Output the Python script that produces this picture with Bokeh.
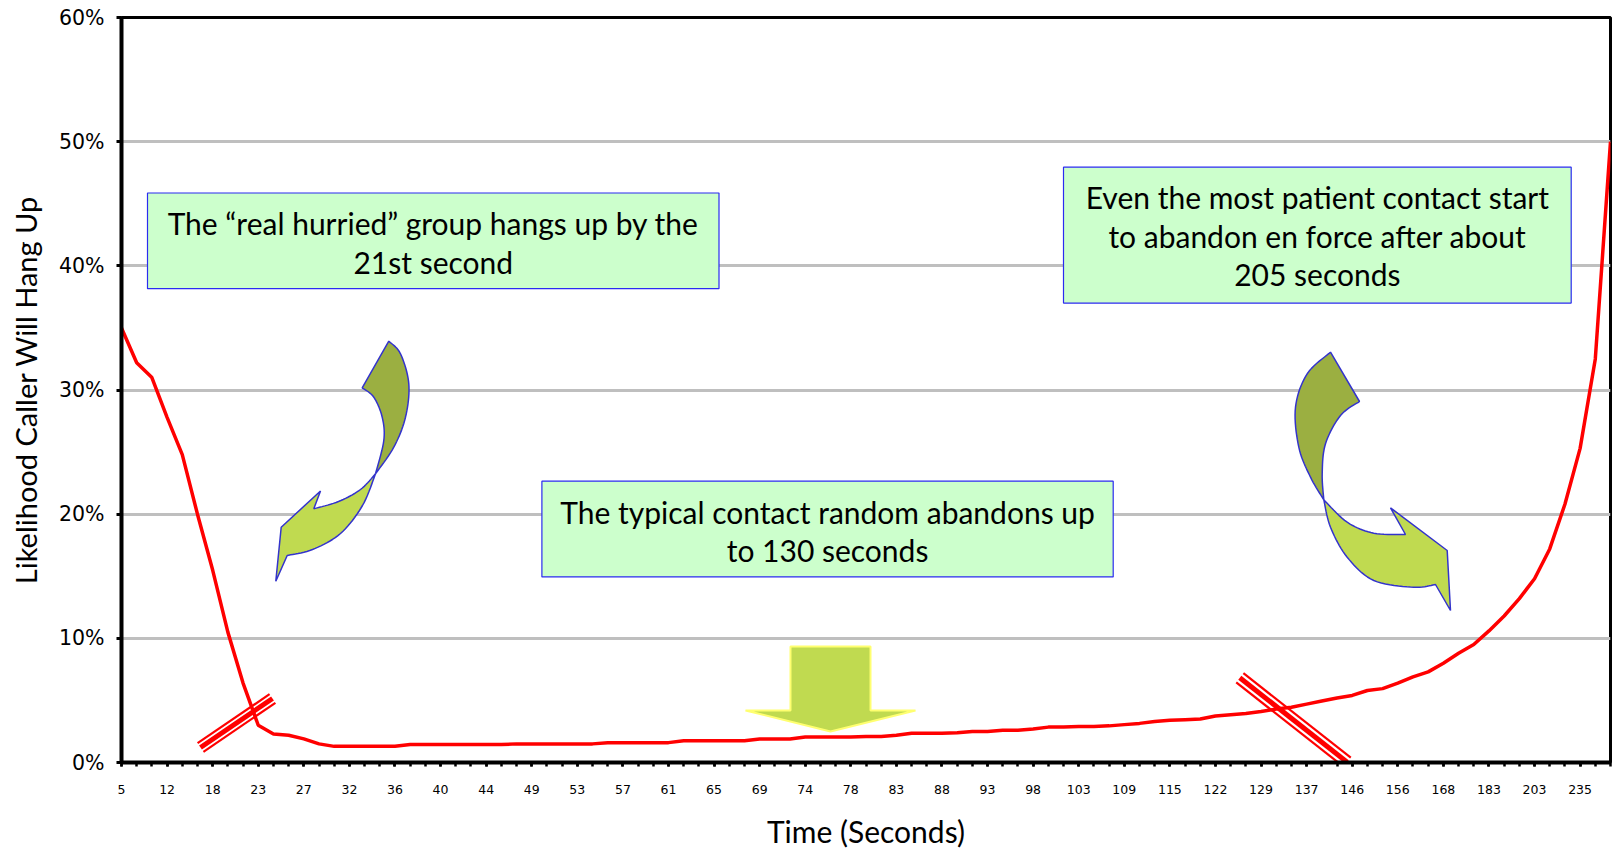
import numpy as np
from bokeh.plotting import figure
from bokeh.models import Range1d, FixedTicker, NumeralTickFormatter
from bokeh.core.properties import value
from bokeh.embed import file_html
from bokeh.resources import INLINE

# ---------------- data ----------------
tick_labels = ["5", "12", "18", "23", "27", "32", "36", "40", "44", "49", "53",
               "57", "61", "65", "69", "74", "78", "83", "88", "93", "98", "103",
               "109", "115", "122", "129", "137", "146", "156", "168", "183",
               "203", "235"]
label_every = 3

hang_up_pct = [35.0, 32.2, 31.0, 27.8, 24.8, 20.0, 15.5, 10.5, 6.4, 3.0,
               2.3, 2.2, 1.9, 1.5, 1.3, 1.3, 1.3, 1.3, 1.3, 1.45,
               1.45, 1.45, 1.45, 1.45, 1.45, 1.45, 1.5, 1.5, 1.5, 1.5,
               1.5, 1.5, 1.6, 1.6, 1.6, 1.6, 1.6, 1.75, 1.75, 1.75,
               1.75, 1.75, 1.9, 1.9, 1.9, 2.05, 2.05, 2.05, 2.05, 2.1,
               2.1, 2.2, 2.35, 2.35, 2.35, 2.4, 2.5, 2.5, 2.6, 2.6,
               2.7, 2.85, 2.85, 2.9, 2.9, 2.95, 3.05, 3.15, 3.3, 3.4,
               3.45, 3.5, 3.75, 3.85, 3.95, 4.1, 4.3, 4.45, 4.7, 4.95,
               5.2, 5.4, 5.8, 5.95, 6.4, 6.9, 7.3, 8.0, 8.8, 9.5,
               10.6, 11.8, 13.2, 14.8, 17.2, 20.8, 25.3, 32.5, 50.0]

y_ticks = [0, 0.1, 0.2, 0.3, 0.4, 0.5, 0.6]
x_title = "Time (Seconds)"
y_title = "Likelihood Caller Will Hang Up"

# ---------------- layout ----------------
W, H = 1614, 853
LEFT, RIGHT, TOP, BOTTOM = 121, 4, 17, 91
n = len(hang_up_pct)
xs = list(range(n))
ys = [v / 100.0 for v in hang_up_pct]

p = figure(width=W, height=H, x_range=Range1d(0, n - 1), y_range=Range1d(0, 0.6),
           output_backend="svg", toolbar_location=None,
           min_border_left=LEFT, min_border_right=RIGHT,
           min_border_top=TOP, min_border_bottom=BOTTOM)
p.background_fill_color = "white"
p.border_fill_color = "white"
p.outline_line_color = "black"
p.outline_line_width = 3

# frame geometry helpers (pixel -> data) for decorative shapes
FX0, FX1 = LEFT, W - RIGHT
FY0, FY1 = TOP, H - BOTTOM
XPX = (FX1 - FX0) / (n - 1)
YPX = (FY1 - FY0) / 0.6


def dx(px):
    return (np.asarray(px, float) - FX0) / XPX


def dy(py):
    return (FY1 - np.asarray(py, float)) / YPX


def smooth(pts, k=10):
    pts = np.array(pts, float)
    P = np.vstack([pts[0], pts, pts[-1]])
    out = []
    for i in range(1, len(P) - 2):
        p0, p1, p2, p3 = P[i - 1], P[i], P[i + 1], P[i + 2]
        for t in np.linspace(0, 1, k, endpoint=False):
            t2, t3 = t * t, t * t * t
            out.append(0.5 * ((2 * p1) + (-p0 + p2) * t + (2 * p0 - 5 * p1 + 4 * p2 - p3) * t2
                              + (-p0 + 3 * p1 - 3 * p2 + p3) * t3))
    out.append(pts[-1])
    return np.array(out)


def poly(parts):
    pts = np.vstack(parts)
    return list(dx(pts[:, 0])), list(dy(pts[:, 1]))


# grid
p.xgrid.visible = False
p.ygrid.ticker = FixedTicker(ticks=[0.1, 0.2, 0.3, 0.4, 0.5])
p.ygrid.grid_line_color = "#BFBFBF"
p.ygrid.grid_line_width = 3

# y axis
p.yaxis.ticker = FixedTicker(ticks=y_ticks)
p.yaxis.formatter = NumeralTickFormatter(format="0%")
p.yaxis.axis_line_width = 4
p.yaxis.axis_line_color = "black"
p.yaxis.major_tick_out = 5
p.yaxis.major_tick_in = 0
p.yaxis.major_tick_line_width = 3
p.yaxis.minor_tick_line_color = None
p.yaxis.major_label_text_font = "DejaVu Sans"
p.yaxis.major_label_text_font_size = "20.5px"
p.yaxis.major_label_text_color = "black"
p.yaxis.major_label_standoff = 12
p.yaxis.axis_label = y_title
p.yaxis.axis_label_text_font = "Lato"
p.yaxis.axis_label_text_font_size = "29px"
p.yaxis.axis_label_text_font_style = "normal"
p.yaxis.axis_label_text_color = "black"
p.yaxis.axis_label_standoff = 13

# x axis
major = [i * label_every for i in range(len(tick_labels))]
p.xaxis.ticker = FixedTicker(ticks=major, minor_ticks=xs)
p.xaxis.major_label_overrides = {m: lbl for m, lbl in zip(major, tick_labels)}
p.xaxis.axis_line_width = 4
p.xaxis.axis_line_color = "black"
p.xaxis.major_tick_out = 4
p.xaxis.major_tick_in = 0
p.xaxis.minor_tick_out = 4
p.xaxis.minor_tick_in = 0
p.xaxis.major_tick_line_width = 2.5
p.xaxis.minor_tick_line_width = 2.5
p.xaxis.minor_tick_line_color = "black"
p.xaxis.major_label_text_font = "DejaVu Sans"
p.xaxis.major_label_text_font_size = "12.5px"
p.xaxis.major_label_text_color = "black"
p.xaxis.major_label_standoff = 18
p.xaxis.axis_label = x_title
p.xaxis.axis_label_text_font = "Lato"
p.xaxis.axis_label_text_font_size = "30px"
p.xaxis.axis_label_text_font_style = "normal"
p.xaxis.axis_label_text_color = "black"
p.xaxis.axis_label_standoff = 16

# main series
p.line(xs, ys, line_color="#FF0000", line_width=3.5)

# ---------------- decorations ----------------
DARK = "#9BAF41"
LIGHT = "#C0DA50"
EDGE = "#3333CC"

# left curved arrow
lT, lK, lC = (388.3, 340.7), (361.7, 387.3), (375.0, 473.3)
l_outer = smooth([lT, (400, 353.3), (408.3, 383.3), (405, 416.7), (393.3, 446.7), lC])
l_inner = smooth([lK, (373.3, 396.7), (381.7, 416.7), (383.3, 440), lC])
lx, ly = poly([l_outer, l_inner[::-1]])
p.patch(lx, ly, fill_color=DARK, line_color=EDGE, line_width=1.5)
l_low = smooth([lC, (362, 505), (340, 533), (312, 549), (286.7, 555)])
l_up = smooth([(313.3, 508.3), (338, 501), (360, 489), lC])
lx, ly = poly([l_low, [(275.3, 580.7), (280.7, 526.7), (320.0, 490.5)], l_up])
p.patch(lx, ly, fill_color=LIGHT, line_color=EDGE, line_width=1.5)

# right curved arrow
rT, rK, rC = (1330.0, 351.7), (1359.0, 401.0), (1323.3, 499.3)
r_outer = smooth([rT, (1306.7, 373.3), (1295, 406.7), (1298.3, 446.7), (1310, 476.7), rC])
r_inner = smooth([rK, (1340, 415), (1325, 443.3), (1321.7, 473.3), rC])
rx, ry = poly([r_outer, r_inner[::-1]])
p.patch(rx, ry, fill_color=DARK, line_color=EDGE, line_width=1.5)
r_up = smooth([rC, (1346.7, 521.7), (1373.3, 532.7), (1405, 534)])
r_low = smooth([(1435, 584), (1413.3, 586.7), (1373.3, 580), (1346.7, 556.7), (1330, 526.7), rC])
rx, ry = poly([r_up, [(1390, 507.3), (1446.7, 550), (1450, 610)], r_low])
p.patch(rx, ry, fill_color=LIGHT, line_color=EDGE, line_width=1.5)

# down block arrow
dpts = np.array([(790, 646), (870, 646), (870, 710), (915, 710), (830, 731),
                 (745, 710), (790, 710)], float)
p.patch(list(dx(dpts[:, 0])), list(dy(dpts[:, 1])), fill_color=LIGHT,
        line_color="#FFFF70", line_width=2)


# axis-break marks (thin / thick / thin)
def break_mark(a, b, gap):
    a, b = np.array(a, float), np.array(b, float)
    d = (b - a) / np.linalg.norm(b - a)
    nrm = np.array([-d[1], d[0]])
    for off, w in ((-gap, 2.2), (0, 5.0), (gap, 2.2)):
        pa, pb = a + nrm * off, b + nrm * off
        p.line(list(dx([pa[0], pb[0]])), list(dy([pa[1], pb[1]])),
               line_color="#FF0000", line_width=w)


break_mark((200, 747), (272, 698), 5.2)
break_mark((1239.3, 677.3), (1346.7, 761.7), 5.8)

# text boxes
boxes = [
    ((147, 192.5, 718.5, 288.2), ["The \u201creal hurried\u201d group hangs up by the", "21st second"],
     [222, 261.5]),
    ((1063, 166.7, 1570.7, 302.6), ["Even the most patient contact start",
                                    "to abandon en force after about", "205 seconds"],
     [196.6, 235.7, 273.8]),
    ((541.4, 480.7, 1112.7, 576.4), ["The typical contact random abandons up", "to 130 seconds"],
     [511.6, 549.6]),
]
for (x0, y0, x1, y1), lines, line_y in boxes:
    p.quad(left=[float(dx(x0))], right=[float(dx(x1))], top=[float(dy(y0))],
           bottom=[float(dy(y1))], fill_color="#CCFFCC", line_color="#2B2BF0",
           line_width=1.2)
    cx = (x0 + x1) / 2
    p.text(x=[float(dx(cx))] * len(lines), y=[float(v) for v in dy(line_y)], text=lines,
           text_align="center", text_baseline="middle", text_color="black",
           text_font=value("Lato"), text_font_size="30px")

open("out.html", "w").write(file_html(p, INLINE))
